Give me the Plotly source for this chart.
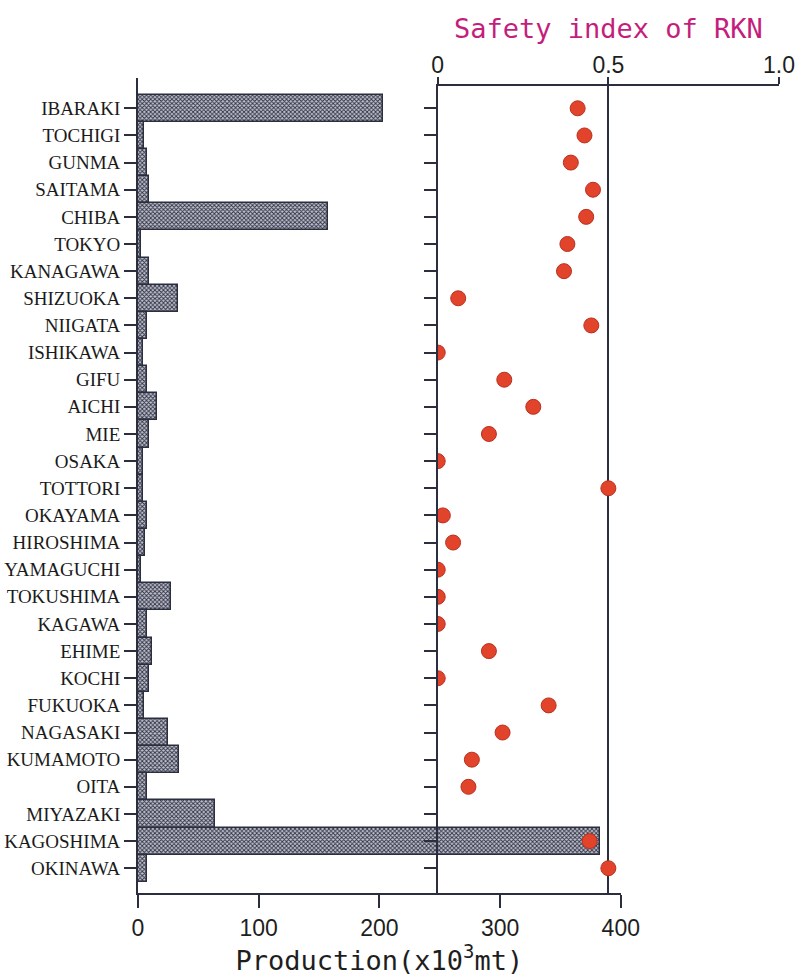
import plotly.graph_objects as go

# Prefectures, top to bottom
prefectures = [
    "IBARAKI", "TOCHIGI", "GUNMA", "SAITAMA", "CHIBA", "TOKYO", "KANAGAWA",
    "SHIZUOKA", "NIIGATA", "ISHIKAWA", "GIFU", "AICHI", "MIE", "OSAKA",
    "TOTTORI", "OKAYAMA", "HIROSHIMA", "YAMAGUCHI", "TOKUSHIMA", "KAGAWA",
    "EHIME", "KOCHI", "FUKUOKA", "NAGASAKI", "KUMAMOTO", "OITA", "MIYAZAKI",
    "KAGOSHIMA", "OKINAWA",
]

# Production (x10^3 mt)
production = [
    203, 5, 7.5, 9.5, 157, 2.5, 9.5,
    33.5, 7.5, 4.5, 7.5, 16, 9.5, 4.5,
    4.5, 7.5, 5.5, 2.5, 27, 7.5,
    12, 9.5, 5, 25, 34, 7.5, 64,
    383, 7.5,
]

# Safety index of RKN (no value for MIYAZAKI)
safety_index = [
    0.41, 0.43, 0.39, 0.455, 0.435, 0.38, 0.37,
    0.06, 0.45, 0.0, 0.195, 0.28, 0.15, 0.0,
    0.5, 0.015, 0.045, 0.0, 0.0, 0.0,
    0.15, 0.0, 0.325, 0.19, 0.1, 0.09, None,
    0.445, 0.5,
]

prod_ticks = [0, 100, 200, 300, 400]
safety_ticks = [0, 0.5, 1.0]
safety_tick_text = ["0", "0.5", "1.0"]

INK = "#2b2e3e"
TITLE_PINK = "#c41e7c"
DOT_RED = "#e2432b"

fig = go.Figure()

fig.add_trace(go.Bar(
    x=production,
    y=prefectures,
    orientation="h",
    xaxis="x",
    yaxis="y",
    marker=dict(
        color="#b5b7c2",
        line=dict(color=INK, width=1.5),
        pattern=dict(shape="x", size=3, solidity=0.5,
                     fgcolor="#2e3146", bgcolor="#c2c3cc"),
    ),
    showlegend=False,
))

fig.add_trace(go.Scatter(
    x=safety_index,
    y=prefectures,
    mode="markers",
    xaxis="x2",
    yaxis="y2",
    marker=dict(size=15, color=DOT_RED, line=dict(color="#b8311f", width=1)),
    showlegend=False,
))

# Row placement shared by both panels (first row at 108 px, 27.14 px per row)
y_range_left = [28.913, -1.1165]
y_range_right = [28.913, -0.8217]

fig.update_layout(
    width=806,
    height=977,
    template="none",
    paper_bgcolor="white",
    plot_bgcolor="rgba(0,0,0,0)",
    margin=dict(l=138, r=27, t=78, b=84, pad=0),
    bargap=0.0,
    xaxis=dict(
        domain=[0, 0.7532],
        range=[0, 400],
        anchor="y",
        tickvals=prod_ticks,
        ticks="outside",
        ticklen=13,
        tickwidth=1.5,
        tickcolor=INK,
        showline=True,
        linecolor=INK,
        linewidth=1.8,
        showgrid=False,
        zeroline=False,
        automargin=False,
        tickfont=dict(family="Liberation Sans", size=23, color="#1e1e1e"),
        title=dict(
            text="Production(x10<sup>3</sup>mt)",
            font=dict(family="DejaVu Sans Mono", size=27, color="#1e1e1e"),
            standoff=6,
        ),
    ),
    yaxis=dict(
        domain=[0, 1],
        anchor="x",
        type="category",
        categoryorder="array",
        categoryarray=prefectures,
        range=y_range_left,
        ticks="outside",
        ticklen=12,
        tickwidth=1.5,
        tickcolor=INK,
        showline=True,
        linecolor=INK,
        linewidth=1.8,
        showgrid=False,
        zeroline=False,
        automargin=False,
        tickfont=dict(family="Liberation Serif", size=19, color="#1a1a1a"),
    ),
    xaxis2=dict(
        domain=[0.4676, 1],
        range=[0, 1],
        anchor="y2",
        side="top",
        tickvals=safety_ticks,
        ticktext=safety_tick_text,
        ticks="outside",
        ticklen=7,
        tickwidth=1.5,
        tickcolor=INK,
        ticklabelstandoff=-5,
        showline=True,
        linecolor=INK,
        linewidth=1.8,
        showgrid=True,
        gridcolor=INK,
        gridwidth=1.6,
        zeroline=False,
        automargin=False,
        tickfont=dict(family="Liberation Sans", size=23, color="#1e1e1e"),
        title=dict(
            text="Safety index of RKN",
            font=dict(family="DejaVu Sans Mono", size=27, color=TITLE_PINK),
            standoff=5,
        ),
    ),
    yaxis2=dict(
        domain=[0, 0.99018],
        anchor="x2",
        type="category",
        categoryorder="array",
        categoryarray=prefectures,
        range=y_range_right,
        ticks="outside",
        ticklen=12,
        tickwidth=1.5,
        tickcolor=INK,
        showticklabels=False,
        showline=True,
        linecolor=INK,
        linewidth=1.8,
        showgrid=False,
        zeroline=False,
        automargin=False,
    ),
)

fig.write_html("out.html")
